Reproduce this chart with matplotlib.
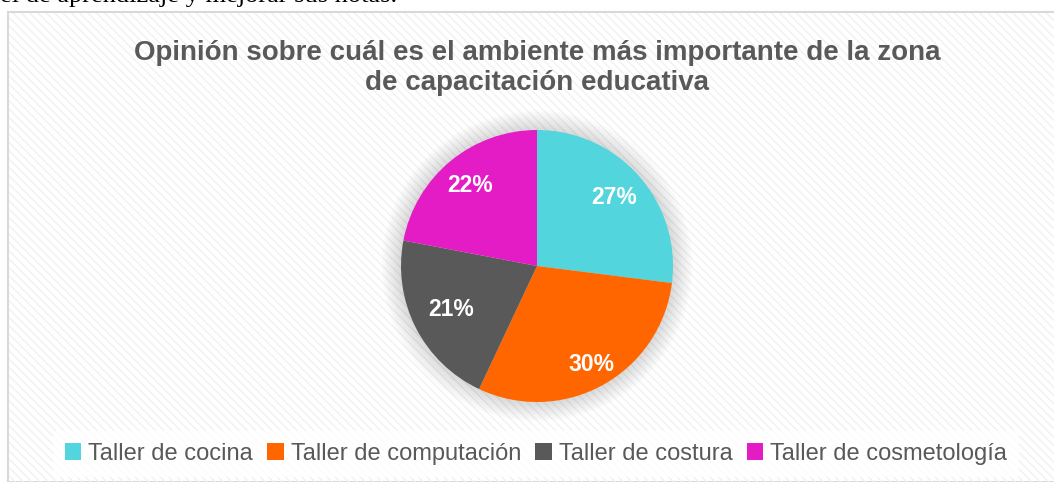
import matplotlib
matplotlib.use("Agg")
import matplotlib.pyplot as plt
from matplotlib.patches import Rectangle, Circle
import numpy as np

categories = ["Taller de cocina", "Taller de computación", "Taller de costura", "Taller de cosmetología"]
values = [27, 30, 21, 22]
labels = ["27%", "30%", "21%", "22%"]
colors = ["#52D5DC", "#FF6600", "#595959", "#E41CC6"]
title = "Opinión sobre cuál es el ambiente más importante de la zona\nde capacitación educativa"
doc_text = "el de aprendizaje y mejorar sus notas."

plt.rcParams['font.family'] = ['Liberation Sans', 'DejaVu Sans']

W, H = 1054, 482
fig = plt.figure(figsize=(W / 100, H / 100), dpi=100)
fig.patch.set_facecolor("white")

# chart frame with subtle diagonal stripes
frame = Rectangle((8 / W, 0), 1 - 8 / W + 0.01, (H - 12) / H, transform=fig.transFigure,
                  facecolor="white", edgecolor="#D9D9D9", lw=1.5, zorder=-2)
fig.patches.append(frame)
stripes = Rectangle((9 / W, 0), 1, (H - 13) / H, transform=fig.transFigure,
                    facecolor="none", edgecolor="#F1F1F1", hatch="\\\\\\\\", lw=0, zorder=-1)
fig.patches.append(stripes)

# cropped document text at top
fig.text(0 / W, 1 - 2 / H, doc_text, family="Liberation Serif", fontsize=19, color="black",
         ha="left", va="baseline")

fig.text(537 / W, 1 - 68 / H, title, ha="center", va="center", fontsize=20,
         fontweight="bold", color="#595959", linespacing=1.2)

# pie axes: center (537, 266), radius 136 px
cx, cy, r = 537, 266, 136
ax = fig.add_axes([(cx - r) / W, (H - cy - r) / H, 2 * r / W, 2 * r / H])
ax.axis("off")

# soft shadow
for k in range(12):
    ax.add_patch(Circle((0, 0), 1.0 + 0.012 * (12 - k), facecolor="#000000",
                        alpha=0.012, lw=0, zorder=0, clip_on=False))

wedges, texts = ax.pie(values, colors=colors, startangle=90, counterclock=False, radius=1.0,
                       labels=labels, labeldistance=0.76,
                       textprops=dict(color="white", fontsize=16.5, fontweight="bold"),
                       wedgeprops=dict(linewidth=0))
ax.set_xlim(-1, 1)
ax.set_ylim(-1, 1)
ax.set_aspect("equal")

label_dist = [0.76, 0.83, 0.71, 0.77]
for w, t, d in zip(wedges, texts, label_dist):
    w.set_zorder(2)
    ang = np.deg2rad((w.theta1 + w.theta2) / 2)
    t.set_position((d * np.cos(ang), d * np.sin(ang)))
    t.set_ha("center")
    t.set_va("center")
    t.set_zorder(3)

# legend
leg = fig.legend(wedges, categories, loc="center", bbox_to_anchor=(536 / W, 1 - 454 / H),
                 ncol=4, frameon=True, fontsize=17, handlelength=0.7, handleheight=0.7,
                 handletextpad=0.3, columnspacing=0.6, borderpad=0.5)
leg.get_frame().set_facecolor("white")
leg.get_frame().set_edgecolor("none")
leg.get_frame().set_alpha(0.85)
leg.get_frame().set_boxstyle("square", pad=0.0)
for t in leg.get_texts():
    t.set_color("#595959")

fig.savefig("out.png", dpi=100)
